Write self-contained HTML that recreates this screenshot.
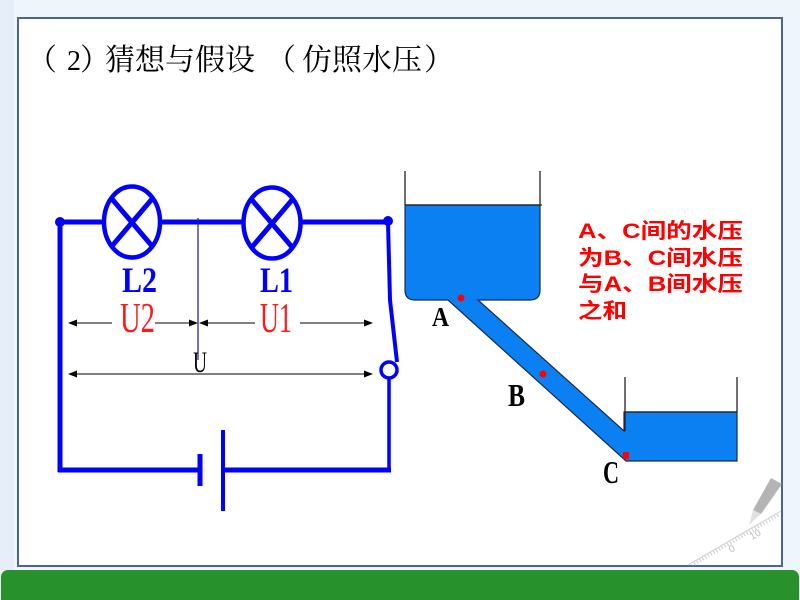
<!DOCTYPE html>
<html><head><meta charset="utf-8"><style>
html,body{margin:0;padding:0;background:#eef5fb;}
svg{display:block;}
</style></head><body>
<svg width="800" height="600" viewBox="0 0 800 600" xmlns="http://www.w3.org/2000/svg">
<rect x="0" y="0" width="800" height="600" fill="#eef5fb"/>
<rect x="0" y="0" width="14" height="570" fill="#e6eff9"/>
<!-- frame -->
<rect x="18" y="18" width="764" height="548" fill="#ffffff" stroke="#4a6690" stroke-width="2"/>
<!-- green bar -->
<rect x="1" y="570" width="798" height="36" rx="7" fill="#27922b"/>

<!-- title -->
<g font-family="'Noto Serif CJK SC','Liberation Serif',serif" font-size="30" fill="#000">
<text x="27" y="70">（</text>
<text x="74" y="70" text-anchor="middle" font-family="'Liberation Serif',serif" font-size="28">2</text>
<text x="80" y="70">）</text>
<text x="105" y="70">猜想与假设</text>
<text x="266" y="70">（</text>
<text x="302" y="70">仿照水压</text>
<text x="424" y="70">）</text>
</g>

<!-- circuit -->
<g stroke="#0000ff" fill="none" stroke-linecap="butt">
<line x1="60" y1="222" x2="388" y2="222" stroke-width="5"/>
<line x1="60" y1="220" x2="60" y2="472" stroke-width="5"/>
<line x1="58" y1="470" x2="200" y2="470" stroke-width="5"/>
<line x1="223" y1="470" x2="391" y2="470" stroke-width="5"/>
<line x1="389" y1="378" x2="389" y2="472" stroke-width="3.5"/>
<polyline points="388,222 390,300 397,362" stroke-width="4"/>
<circle cx="389" cy="370" r="8" stroke-width="3.5" fill="#fff"/>
<line x1="200" y1="454" x2="200" y2="486" stroke-width="5"/>
<line x1="223" y1="430" x2="223" y2="511" stroke-width="4"/>
<ellipse cx="132" cy="222" rx="28" ry="35.5" stroke-width="4.5" fill="#fff"/>
<line x1="112" y1="199" x2="152" y2="246" stroke-width="5"/>
<line x1="152" y1="199" x2="112" y2="246" stroke-width="5"/>
<ellipse cx="272" cy="223" rx="28.5" ry="35.5" stroke-width="4.5" fill="#fff"/>
<line x1="252" y1="200" x2="292" y2="247" stroke-width="5"/>
<line x1="292" y1="200" x2="252" y2="247" stroke-width="5"/>
</g>
<circle cx="60" cy="222" r="5" fill="#0000ff"/>
<circle cx="388" cy="221" r="5" fill="#0000ff"/>

<line x1="198" y1="218" x2="198" y2="360" stroke="#1a1a8c" stroke-width="1.2"/>

<!-- labels -->
<g font-family="'Liberation Serif',serif">
<text x="122" y="292" font-size="36" font-weight="bold" fill="#0000ff" textLength="35" lengthAdjust="spacingAndGlyphs">L2</text>
<text x="260" y="292" font-size="36" font-weight="bold" fill="#0000ff" textLength="33" lengthAdjust="spacingAndGlyphs">L1</text>
<text x="120" y="332" font-size="42" fill="#ff1a1a" textLength="35" lengthAdjust="spacingAndGlyphs">U2</text>
<text x="260" y="332" font-size="42" fill="#ff1a1a" textLength="32" lengthAdjust="spacingAndGlyphs">U1</text>
<text x="193" y="372" font-size="30" fill="#000" textLength="14" lengthAdjust="spacingAndGlyphs">U</text>
</g>

<!-- arrows -->
<g stroke="#000" stroke-width="1">
<line x1="70" y1="323" x2="112" y2="323"/>
<line x1="155" y1="323" x2="196" y2="323"/>
<line x1="200" y1="323" x2="255" y2="323"/>
<line x1="300" y1="323" x2="371" y2="323"/>
<line x1="70" y1="374" x2="371" y2="374"/>
</g>
<g fill="#000">
<polygon points="68,323 77,319.5 77,326.5"/>
<polygon points="198,323 189,319.5 189,326.5"/>
<polygon points="199,323 208,319.5 208,326.5"/>
<polygon points="373,323 364,319.5 364,326.5"/>
<polygon points="68,374 77,370.5 77,377.5"/>
<polygon points="373,374 364,370.5 364,377.5"/>
</g>

<!-- water -->
<path d="M405,205 L540,205 L540,290 Q540,300 530,300 L478,300 L624,431 L624,412 L737,412 L737,461 L626,461 L448,300 L415,300 Q405,300 405,290 Z" fill="#0b80f3" stroke="#1b2a48" stroke-width="1.2"/>
<g stroke="#222" stroke-width="1.3">
<line x1="405" y1="171" x2="405" y2="205"/>
<line x1="540" y1="171" x2="540" y2="205"/>
<line x1="405" y1="205" x2="542" y2="205"/>
<line x1="625" y1="377" x2="625" y2="431"/>
<line x1="737" y1="377" x2="737" y2="412"/>
<line x1="625" y1="412" x2="737" y2="412"/>
</g>
<circle cx="461" cy="298" r="3.5" fill="#ff0000"/>
<circle cx="543" cy="374" r="3.5" fill="#ff0000"/>
<rect x="623" y="452" width="6" height="7" fill="#ff0000"/>

<g font-family="'Liberation Serif',serif" font-weight="bold" fill="#000">
<text x="432" y="326" font-size="27" textLength="17" lengthAdjust="spacingAndGlyphs">A</text>
<text x="508" y="406" font-size="32" textLength="17" lengthAdjust="spacingAndGlyphs">B</text>
<text x="603" y="483" font-size="32" textLength="16" lengthAdjust="spacingAndGlyphs">C</text>
</g>

<g font-family="'Liberation Sans','Noto Sans CJK SC',sans-serif" font-weight="bold" font-size="21" fill="#ff0000">
<text x="578" y="238" textLength="165" lengthAdjust="spacingAndGlyphs">A、C间的水压</text>
<text x="578" y="265" textLength="165" lengthAdjust="spacingAndGlyphs">为B、C间水压</text>
<text x="578" y="291" textLength="165" lengthAdjust="spacingAndGlyphs">与A、B间水压</text>
<text x="578" y="318" textLength="49" lengthAdjust="spacingAndGlyphs">之和</text>
</g>

<!-- pencil & ruler decoration -->
<g opacity="0.75">
<polygon points="771,478 782,484 761,514 753,510" fill="#9c9c9c"/>
<polygon points="753,510 761,514 749,525" fill="#d8d8d8"/>
<line x1="781" y1="511" x2="688" y2="565" stroke="#c8c8c8" stroke-width="1.2"/>
<line x1="778" y1="515" x2="692" y2="565" stroke="#bdbdbd" stroke-width="4" stroke-dasharray="1 2.2"/>
<text x="0" y="0" font-family="'Liberation Sans',sans-serif" font-size="10" fill="#aaa" transform="translate(752,540) rotate(-30)">10</text>
<text x="0" y="0" font-family="'Liberation Sans',sans-serif" font-size="10" fill="#aaa" transform="translate(731,553) rotate(-30)">0</text>
</g>
</svg>
</body></html>
